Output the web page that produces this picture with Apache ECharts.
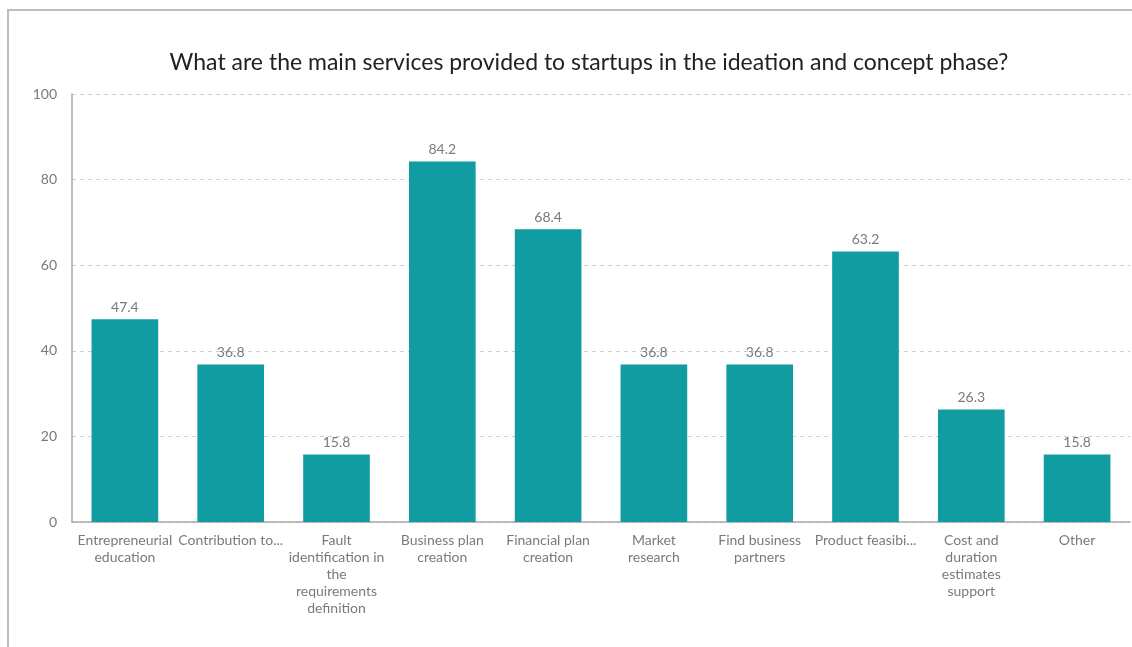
<!DOCTYPE html>
<html>
<head>
<meta charset="utf-8">
<script src="https://cdn.jsdelivr.net/npm/echarts@6/dist/echarts.min.js"></script>
<style>
  html, body { margin: 0; padding: 0; background: #fff; }
  #chart { width: 1132px; height: 647px; }
</style>
</head>
<body>
<div id="chart"></div>
<script>
// Services offered to startups in the ideation and concept phase (% of respondents)
const categories = [
  'Entrepreneurial\neducation',
  'Contribution to...',
  'Fault\nidentification in\nthe\nrequirements\ndefinition',
  'Business plan\ncreation',
  'Financial plan\ncreation',
  'Market\nresearch',
  'Find business\npartners',
  'Product feasibi...',
  'Cost and\nduration\nestimates\nsupport',
  'Other'
];
const values = [47.4, 36.8, 15.8, 84.2, 68.4, 36.8, 36.8, 63.2, 26.3, 15.8];
const yTicks = { min: 0, max: 100, interval: 20 };

const chart = echarts.init(document.getElementById('chart'), null, { renderer: 'canvas' });
const font = 'Lato, "Open Sans", sans-serif';

chart.setOption({
  animation: false,
  backgroundColor: '#ffffff',
  title: {
    text: 'What are the main services provided to startups in the ideation and concept phase?',
    left: 584,
    textAlign: 'center',
    top: 46,
    textStyle: { fontFamily: font, fontSize: 23, fontWeight: 'normal', color: '#222222' }
  },
  graphic: [
    {
      type: 'polyline',
      shape: { points: [[8, 647], [8, 10], [1132, 10]] },
      style: { stroke: '#bdbdbd', lineWidth: 2, fill: null }
    }
  ],
  grid: { left: 72, right: 2, top: 94, bottom: 125, containLabel: false },
  xAxis: {
    type: 'category',
    data: categories,
    axisLine: { show: true, lineStyle: { color: '#a8a8a8', width: 1.5 } },
    axisTick: { show: false },
    axisLabel: {
      interval: 0,
      margin: 10,
      fontFamily: font,
      fontSize: 14,
      lineHeight: 17,
      color: '#7a7a7a',
      align: 'center'
    }
  },
  yAxis: {
    type: 'value',
    min: yTicks.min,
    max: yTicks.max,
    interval: yTicks.interval,
    axisLine: { show: true, lineStyle: { color: '#a8a8a8', width: 1.5 } },
    axisTick: { show: false },
    axisLabel: { margin: 15, fontFamily: font, fontSize: 14, color: '#7a7a7a' },
    splitLine: { show: true, lineStyle: { color: '#cfcfcf', type: [4, 4], width: 1 } }
  },
  series: [{
    type: 'bar',
    data: values,
    barWidth: '63%',
    itemStyle: { color: '#109ca1' },
    label: {
      show: true,
      position: 'top',
      distance: 5,
      fontFamily: font,
      fontSize: 14,
      color: '#7a7a7a',
      formatter: p => p.value.toFixed(1)
    }
  }]
});
</script>
</body>
</html>
